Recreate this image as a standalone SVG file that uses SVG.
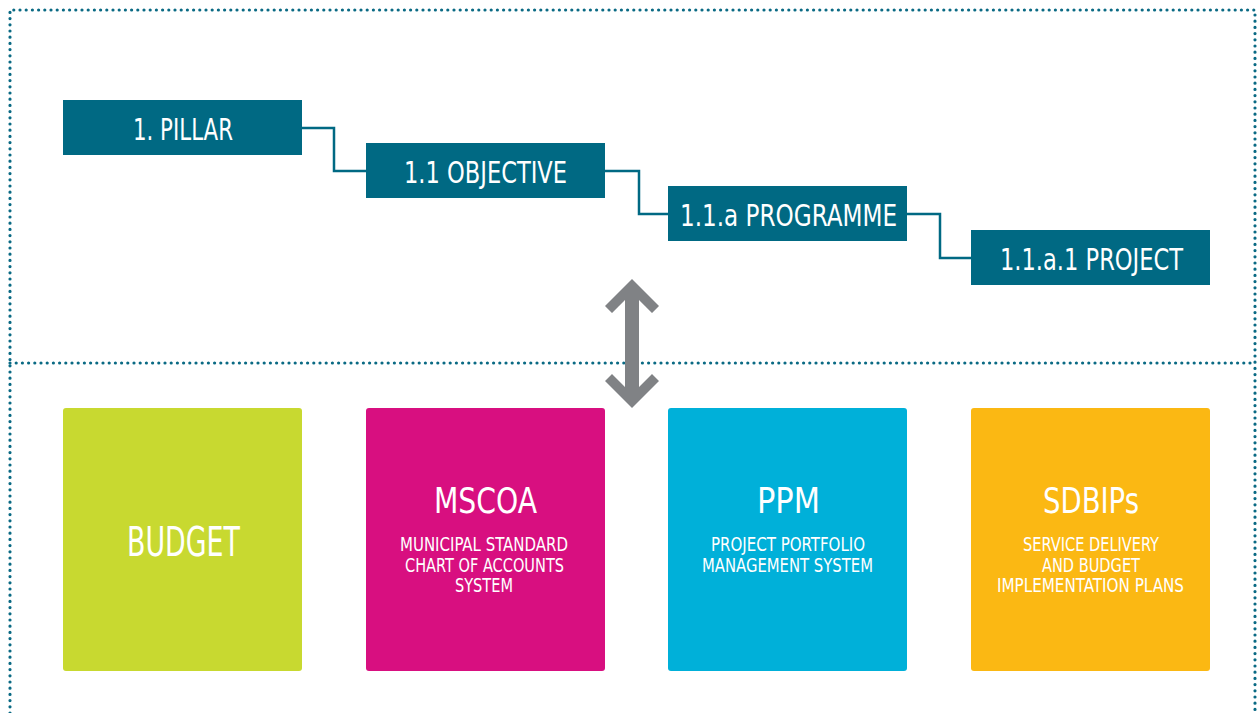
<svg xmlns="http://www.w3.org/2000/svg" width="1257" height="713" viewBox="0 0 1257 713">
<style>
.dot{fill:none;stroke:#0a6a84;stroke-width:3.2;stroke-dasharray:0 6.2;stroke-linecap:round}
.hb{fill:#006983}
.ht{font-family:"DejaVu Sans Condensed","DejaVu Sans",sans-serif;font-size:31px;fill:#fff;text-anchor:middle}
.bt{font-family:"DejaVu Sans Condensed","DejaVu Sans",sans-serif;fill:#fff;text-anchor:middle}
.big{font-size:36px}
.sm{font-size:19px}
.conn{fill:none;stroke:#006983;stroke-width:2.5}
</style>
<rect width="1257" height="713" fill="#fff"/>
<g id="frame">
<path class="dot" d="M10 713 V10 H1255 V713"/>
<path class="dot" d="M10 363 H1255"/>
</g>
<g id="connectors">
<path class="conn" d="M302 128 H334 V171 H366"/>
<path class="conn" d="M605 171 H639 V214 H668"/>
<path class="conn" d="M907 214 H940 V258 H971"/>
<polygon fill="#808285" points="632,279 659,306 652,313 639,300 639,387 652,374 659,381 632,408 605,381 612,374 625,387 625,300 612,313 605,306"/>
</g>
<g id="pillar"><rect class="hb" x="63" y="100" width="239" height="55"/><text class="ht" x="183" y="140" textLength="100" lengthAdjust="spacingAndGlyphs">1. PILLAR</text></g>
<g id="objective"><rect class="hb" x="366" y="143" width="239" height="55"/><text class="ht" x="485.5" y="183" textLength="163" lengthAdjust="spacingAndGlyphs">1.1 OBJECTIVE</text></g>
<g id="programme"><rect class="hb" x="668" y="186" width="239" height="55"/><text class="ht" x="788.5" y="226" textLength="217" lengthAdjust="spacingAndGlyphs">1.1.a PROGRAMME</text></g>
<g id="project"><rect class="hb" x="971" y="230" width="239" height="55"/><text class="ht" x="1091.5" y="270" textLength="183" lengthAdjust="spacingAndGlyphs">1.1.a.1 PROJECT</text></g>
<g id="budget"><rect x="63" y="408" width="239" height="263" rx="3" fill="#c8d930"/><text class="bt" x="183.5" y="556" font-size="41" textLength="113" lengthAdjust="spacingAndGlyphs">BUDGET</text></g>
<g id="mscoa"><rect x="366" y="408" width="239" height="263" rx="3" fill="#d80f80"/>
<text class="bt big" x="485.5" y="513" textLength="103" lengthAdjust="spacingAndGlyphs">MSCOA</text>
<text class="bt sm" x="484" y="551" textLength="168" lengthAdjust="spacingAndGlyphs">MUNICIPAL STANDARD</text>
<text class="bt sm" x="484.5" y="572" textLength="159" lengthAdjust="spacingAndGlyphs">CHART OF ACCOUNTS</text>
<text class="bt sm" x="484" y="592" textLength="58" lengthAdjust="spacingAndGlyphs">SYSTEM</text></g>
<g id="ppm"><rect x="668" y="408" width="239" height="263" rx="3" fill="#00b0d9"/>
<text class="bt big" x="788.5" y="513" textLength="63" lengthAdjust="spacingAndGlyphs">PPM</text>
<text class="bt sm" x="788" y="551" textLength="154" lengthAdjust="spacingAndGlyphs">PROJECT PORTFOLIO</text>
<text class="bt sm" x="787.5" y="572" textLength="171" lengthAdjust="spacingAndGlyphs">MANAGEMENT SYSTEM</text></g>
<g id="sdbips"><rect x="971" y="408" width="239" height="263" rx="3" fill="#fbb813"/>
<text class="bt big" x="1091" y="513" textLength="96" lengthAdjust="spacingAndGlyphs">SDBIPs</text>
<text class="bt sm" x="1091" y="551" textLength="136" lengthAdjust="spacingAndGlyphs">SERVICE DELIVERY</text>
<text class="bt sm" x="1091" y="572" textLength="98" lengthAdjust="spacingAndGlyphs">AND BUDGET</text>
<text class="bt sm" x="1090.5" y="592" textLength="187" lengthAdjust="spacingAndGlyphs">IMPLEMENTATION PLANS</text></g>
</svg>
